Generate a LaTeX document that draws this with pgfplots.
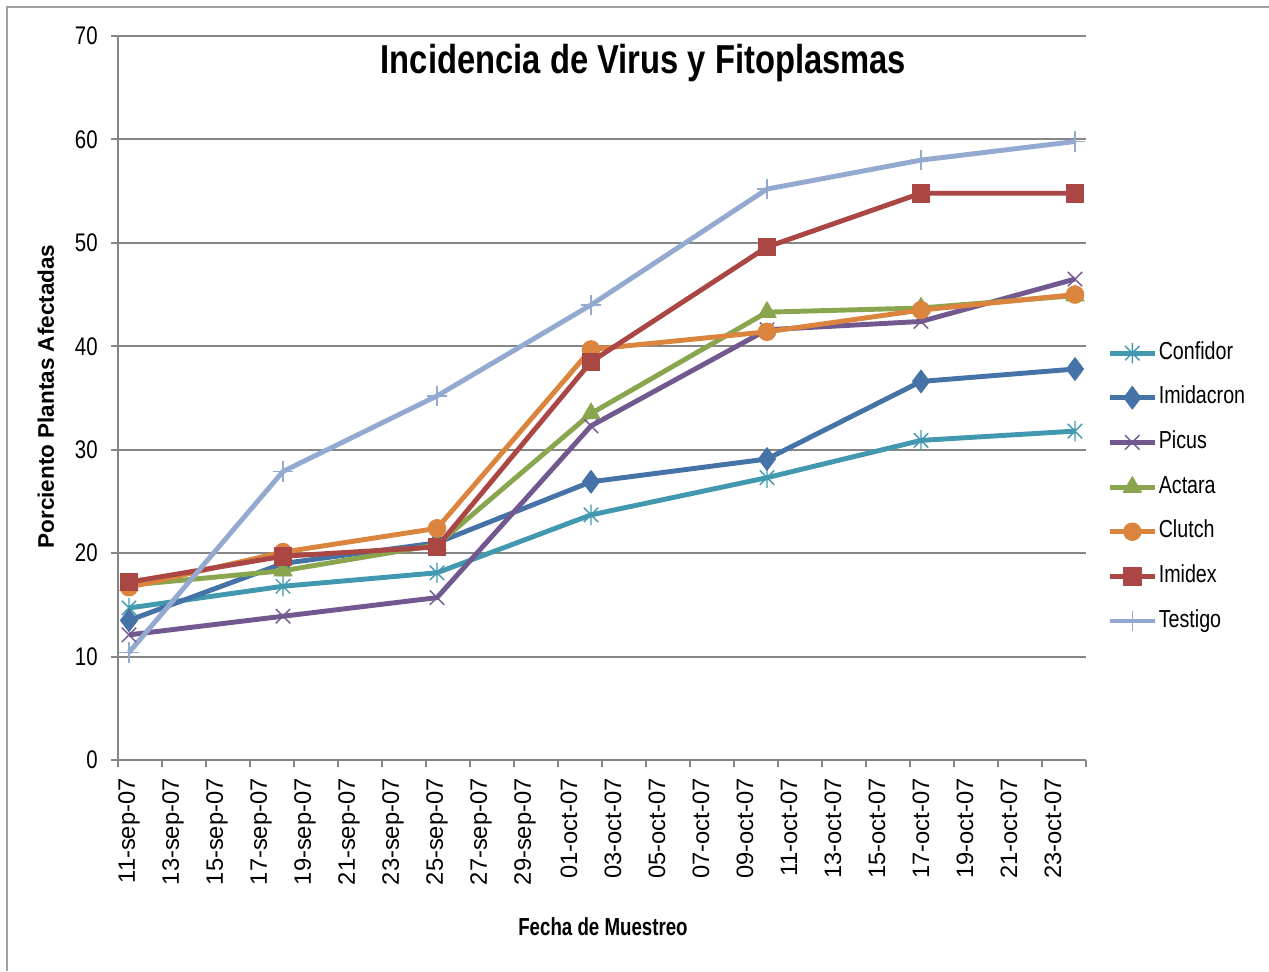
\documentclass[border=0pt]{standalone}
\usepackage{fontspec}
\setmainfont{Liberation Sans}
\newfontfamily\nf{Liberation Sans}[FakeStretch=0.8]
\newfontfamily\tf{Liberation Sans}[FakeStretch=0.81]
\newfontfamily\xf{Liberation Sans}[FakeStretch=0.76]
\usepackage{pgfplots}
\pgfplotsset{compat=1.18}
\definecolor{cconf}{HTML}{4198AF}
\definecolor{cimid}{HTML}{4572A7}
\definecolor{cpicus}{HTML}{71588F}
\definecolor{cact}{HTML}{89A54E}
\definecolor{cclu}{HTML}{DB843D}
\definecolor{cimx}{HTML}{AA4643}
\definecolor{ctes}{HTML}{93A9CF}
\definecolor{gridgray}{HTML}{868686}
\definecolor{framegray}{HTML}{A0A0A0}
\pgfdeclareplotmark{xstar}{%
  \pgfpathmoveto{\pgfqpoint{0pt}{\pgfplotmarksize}}%
  \pgfpathlineto{\pgfqpoint{0pt}{-\pgfplotmarksize}}%
  \pgfpathmoveto{\pgfqpoint{0.7071\pgfplotmarksize}{0.7071\pgfplotmarksize}}%
  \pgfpathlineto{\pgfqpoint{-0.7071\pgfplotmarksize}{-0.7071\pgfplotmarksize}}%
  \pgfpathmoveto{\pgfqpoint{-0.7071\pgfplotmarksize}{0.7071\pgfplotmarksize}}%
  \pgfpathlineto{\pgfqpoint{0.7071\pgfplotmarksize}{-0.7071\pgfplotmarksize}}%
  \pgfusepathqstroke}
\begin{document}
\begin{tikzpicture}
\useasboundingbox (-23.6mm,-42.2mm) rectangle (230.2mm,152mm);
\draw[framegray, line width=0.4mm] (-22.2mm,-42.2mm) -- (-22.2mm,150.6mm) -- (230.2mm,150.6mm);
\begin{axis}[
  name=ax, at={(0,0)}, anchor=south west,
  scale only axis, width=193.6mm, height=144.8mm,
  xmin=-0.5, xmax=43.5, ymin=0, ymax=70,
  axis x line*=bottom, axis y line*=left,
  axis line style={line width=0.4mm, gridgray},
  ymajorgrids, grid style={line width=0.4mm, gridgray},
  tick align=outside, major tick length=1.4mm,
  tick style={line width=0.4mm, gridgray},
  ytick={0,10,...,70},
  /pgf/number format/assume math mode=true,
  yticklabel style={font=\nf\fontsize{14.5}{16}\selectfont, inner sep=0pt, xshift=-2.6mm, anchor=east},
  xtick={-0.5,1.5,...,43.5}, xticklabels={},
  extra x ticks={0,2,...,42},
  extra x tick labels={11-sep-07,13-sep-07,15-sep-07,17-sep-07,19-sep-07,21-sep-07,23-sep-07,25-sep-07,27-sep-07,29-sep-07,01-oct-07,03-oct-07,05-oct-07,07-oct-07,09-oct-07,11-oct-07,13-oct-07,15-oct-07,17-oct-07,19-oct-07,21-oct-07,23-oct-07},
  extra x tick style={major tick length=0pt, grid=none},
  xticklabel style={font=\fontsize{13.5}{15}\selectfont, rotate=90, anchor=east, inner sep=0pt, xshift=-3.6mm},
  legend style={at={(1.0217,0.377)}, anchor=west, draw=none, fill=none,
    font=\nf\fontsize{14}{16}\selectfont, row sep=10.7pt, inner sep=0pt,
    nodes={inner sep=0.3mm, text height=10pt, text depth=3pt}},
  legend cell align=left,
  legend image code/.code={\draw[mark repeat=2,mark phase=2] plot coordinates {(0mm,0mm) (4.5mm,0mm) (9mm,0mm)};},
  every axis plot/.append style={line width=2.8pt, line join=round},
]
\addplot[cconf, mark=xstar, mark size=5.8pt, mark options={line width=0.8pt}] coordinates {(0,14.7) (7,16.8) (14,18.1) (21,23.7) (29,27.3) (36,30.9) (43,31.8)};
\addlegendentry{Confidor}
\addplot[cimid, mark=diamond*, mark size=6.5pt, mark options={line width=0.5pt, fill=cimid}] coordinates {(0,13.5) (7,19.0) (14,21.0) (21,26.9) (29,29.1) (36,36.6) (43,37.8)};
\addlegendentry{Imidacron}
\addplot[cpicus, mark=x, mark size=5.8pt, mark options={line width=0.8pt}] coordinates {(0,12.1) (7,13.9) (14,15.7) (21,32.3) (29,41.6) (36,42.4) (43,46.5)};
\addlegendentry{Picus}
\addplot[cact, mark=triangle*, mark size=6pt, mark options={line width=0.5pt, fill=cact}] coordinates {(0,16.9) (7,18.3) (14,20.8) (21,33.5) (29,43.3) (36,43.7) (43,44.9)};
\addlegendentry{Actara}
\addplot[cclu, mark=*, mark size=5pt, mark options={line width=0.5pt, fill=cclu}] coordinates {(0,16.7) (7,20.1) (14,22.4) (21,39.7) (29,41.4) (36,43.5) (43,45.0)};
\addlegendentry{Clutch}
\addplot[cimx, mark=square*, mark size=5pt, mark options={line width=0.5pt, fill=cimx}] coordinates {(0,17.2) (7,19.7) (14,20.6) (21,38.5) (29,49.6) (36,54.8) (43,54.8)};
\addlegendentry{Imidex}
\addplot[ctes, mark=+, mark size=5.8pt, mark options={line width=0.8pt}] coordinates {(0,10.4) (7,27.9) (14,35.2) (21,44.0) (29,55.2) (36,58.0) (43,59.8)};
\addlegendentry{Testigo}
\end{axis}
\path (ax.south west) ++(105.1mm,137.2mm) node[anchor=base, inner sep=0pt, font=\tf\bfseries\fontsize{23}{27}\selectfont] {Incidencia de Virus y Fitoplasmas};
\path (ax.south west) ++(97mm,-35mm) node[anchor=base, inner sep=0pt, font=\xf\bfseries\fontsize{14}{16}\selectfont] {Fecha de Muestreo};
\path (ax.south west) ++(-12.8mm,72.7mm) node[anchor=base, rotate=90, inner sep=0pt, font=\bfseries\fontsize{12.8}{15}\selectfont] {Porciento Plantas Afectadas};
\end{tikzpicture}
\end{document}
